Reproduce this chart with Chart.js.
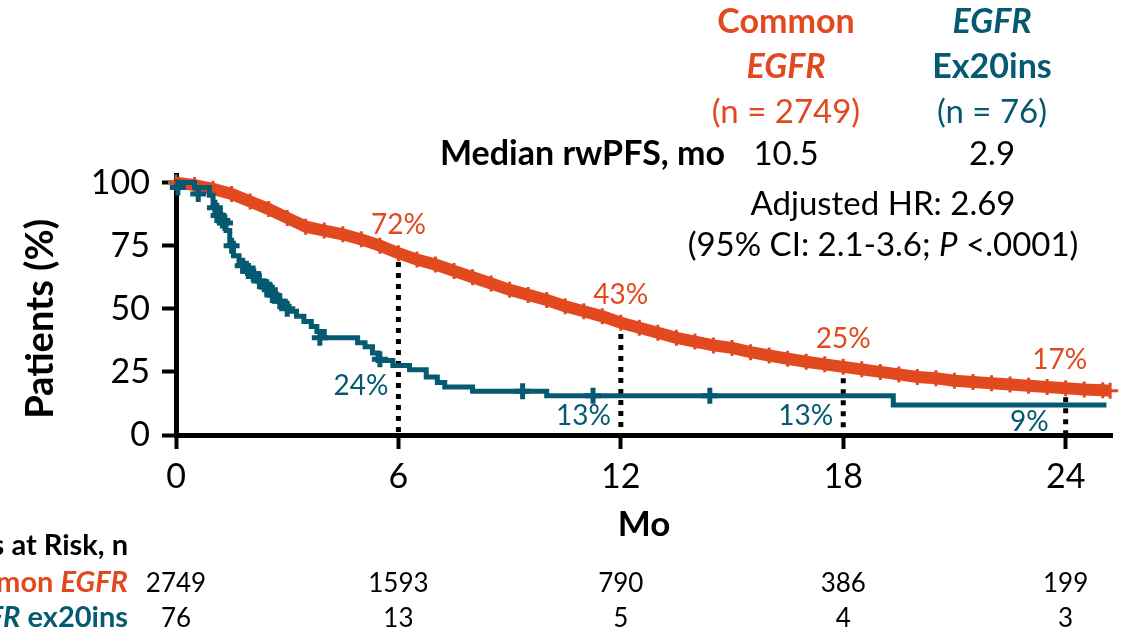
<!DOCTYPE html>
<html><head><meta charset="utf-8">
<script src="https://cdn.jsdelivr.net/npm/chart.js@4.4.1/dist/chart.umd.min.js"></script>
<style>html,body{margin:0;padding:0;background:#fff;overflow:hidden}#wrap{width:1127px;height:636px;position:relative}</style>
</head><body><div id="wrap"><canvas id="c" width="1127" height="636"></canvas></div>
<script>
// ---- data ----
const orangeT = [0,0.5,1,1.5,2,2.5,3,3.5,4,4.5,5,5.5,6,6.5,7,7.5,8,8.5,9,9.5,10,10.5,11,11.5,12,12.5,13,13.5,14,14.5,15,15.5,16,16.5,17,17.5,18,18.5,19,19.5,20,20.5,21,21.5,22,22.5,23,23.5,24,24.5,25,25.2];
const orangeS = [100,99,97.5,95.5,92.5,89.5,86,82.5,81,79.5,77.5,75,72,69.5,67.5,65,62.5,60,57.5,55.5,53.5,51,49,47,44.5,42.5,40.5,38.5,37,35.5,34.5,32.8,31.5,30.2,29,28,27,26,25,24,23,22.5,21.5,21,20.5,20,19.5,19,18.5,18,17.7,17.5];
const tealT = [0,0.5,0.9,1,1.1,1.2,1.35,1.45,1.55,1.7,1.9,2.05,2.2,2.35,2.55,2.7,2.9,3.05,3.25,3.45,3.65,3.8,4,4.9,5.1,5.3,5.45,5.85,6.3,6.75,7.05,7.25,8,10,19.35,25.1];
const tealS = [100,98,95,91,88,85,81,76,71,68,65,63,61,59,56,53,51,49,47,45,43,41,38.5,36.5,35,32.5,29.5,27.5,25.8,23,20.8,19,17.3,15.5,11.9,11.9];
const tealCensorT = [0.05,0.6,1.05,1.15,1.25,1.32,1.5,1.8,1.95,2.08,2.25,2.45,2.53,2.6,2.8,3.0,3.88,5.5,9.35,11.25,14.4];
const tealCensorS = [98,95.5,90,87,85,84,75,67,65,64,61,58.5,57.5,55.5,53,50,38.5,30,17.3,15.5,15.5];
const landmarks = [6,12,18,24];
const landmarkTop = [68.5,40,22.5,15];
const commonPct = ['72%','43%','25%','17%'];
const ex20Pct = ['24%','13%','13%','9%'];
const xTicks = [0,6,12,18,24];
const yTicks = [0,25,50,75,100];
const riskTimes = [0,6,12,18,24];
const riskCommon = [2749,1593,790,386,199];
const riskEx20 = [76,13,5,4,3];
const groupN = [2749,76];
const medians = ['10.5','2.9'];

const ORANGE = '#E2491F';
const TEAL = '#055A72';
const FF = 'Lato, "Open Sans", sans-serif';
const fnt = (s, w='normal', st='normal') => `${st} ${w} ${s}px ${FF}`;

const pts = (xs, ys) => xs.map((x,i)=>({x, y: ys[i]}));
const datasets = [];
landmarks.forEach((t,i)=>datasets.push({label:'landmark '+t, data:[{x:t,y:landmarkTop[i]},{x:t,y:0}],
  borderColor:'#000', borderWidth:5, borderDash:[5,6], borderCapStyle:'butt', pointRadius:0, order:10}));
datasets.push({label:'Common EGFR', data:pts(orangeT,orangeS), borderColor:ORANGE, borderWidth:12, tension:0,
  pointStyle:'cross', pointRadius:8, pointBorderWidth:3, pointBorderColor:ORANGE, pointBackgroundColor:ORANGE, order:3, clip:12});
datasets.push({label:'EGFR ex20ins', data:pts(tealT,tealS), stepped:'before', borderColor:TEAL, borderWidth:5,
  pointRadius:0, order:2, clip:12});
datasets.push({label:'EGFR ex20ins censored', data:pts(tealCensorT,tealCensorS), showLine:false, pointStyle:'cross',
  pointRadius:8, pointBorderWidth:5, pointBorderColor:TEAL, pointBackgroundColor:TEAL, order:1, clip:12});

function runsWidth(ctx, runs){ let w=0; runs.forEach(r=>{ctx.font=r.font; w+=ctx.measureText(r.text).width;}); return w; }
function drawRuns(ctx, runs, x, y, align){
  const w = runsWidth(ctx, runs);
  let cx = align==='center' ? x - w/2 : align==='right' ? x - w : x;
  ctx.textAlign='left'; ctx.textBaseline='alphabetic';
  runs.forEach(r=>{ ctx.font=r.font; ctx.fillStyle=r.color; ctx.fillText(r.text, cx, y); cx += ctx.measureText(r.text).width; });
}
function valAt(ts, ss, t){ let v=ss[0]; for(let i=0;i<ts.length;i++){ if(ts[i]<=t+1e-9) v=ss[i]; } return v; }

const annot = {
  id:'annot',
  afterDraw(chart){
    const ctx = chart.ctx, xs = chart.scales.x, ys = chart.scales.y;
    ctx.save();
    // header block
    const L = 33, LB = 34, cO = 786, cT = 992;
    drawRuns(ctx,[{text:'Common',font:fnt(LB,'bold'),color:ORANGE}],cO,33,'center');
    drawRuns(ctx,[{text:'EGFR',font:fnt(LB,'bold','italic'),color:ORANGE}],cO,78,'center');
    drawRuns(ctx,[{text:'(n = '+groupN[0]+')',font:fnt(L),color:ORANGE}],cO,123,'center');
    drawRuns(ctx,[{text:'EGFR',font:fnt(LB,'bold','italic'),color:TEAL}],cT,33,'center');
    drawRuns(ctx,[{text:'Ex20ins',font:fnt(LB,'bold'),color:TEAL}],cT,78,'center');
    drawRuns(ctx,[{text:'(n = '+groupN[1]+')',font:fnt(L),color:TEAL}],cT,123,'center');
    drawRuns(ctx,[{text:'Median rwPFS, mo',font:fnt(LB,'bold'),color:'#000'}],725,165,'right');
    drawRuns(ctx,[{text:medians[0],font:fnt(L),color:'#000'}],cO,165,'center');
    drawRuns(ctx,[{text:medians[1],font:fnt(L),color:'#000'}],cT,165,'center');
    drawRuns(ctx,[{text:'Adjusted HR: 2.69',font:fnt(L),color:'#000'}],883,215,'center');
    drawRuns(ctx,[{text:'(95% CI: 2.1-3.6; ',font:fnt(L),color:'#000'},{text:'P',font:fnt(L,'normal','italic'),color:'#000'},{text:' <.0001)',font:fnt(L),color:'#000'}],883,256,'center');
    // landmark percentages
    ctx.font = fnt(28); ctx.textBaseline='middle';
    landmarks.forEach((t,i)=>{
      const px = xs.getPixelForValue(t);
      ctx.fillStyle=ORANGE; ctx.textAlign='center';
      ctx.fillText(commonPct[i], px - (i===3?6:0), ys.getPixelForValue(valAt(orangeT,orangeS,t)) - 28);
      ctx.fillStyle=TEAL; ctx.textAlign='right';
      ctx.fillText(ex20Pct[i], px - (i===3?17:10), ys.getPixelForValue(valAt(tealT,tealS,t)) + (i===3?17:20));
    });
    // at-risk table
    const R = 26, RB = 29, lx = 128;
    drawRuns(ctx,[{text:'Patients at Risk, n',font:fnt(RB,'bold'),color:'#000'}],lx,555,'right');
    drawRuns(ctx,[{text:'Common ',font:fnt(RB,'bold'),color:ORANGE},{text:'EGFR',font:fnt(RB,'bold','italic'),color:ORANGE}],lx,592,'right');
    drawRuns(ctx,[{text:'EGFR',font:fnt(RB,'bold','italic'),color:TEAL},{text:' ex20ins',font:fnt(RB,'bold'),color:TEAL}],lx,627,'right');
    ctx.font = fnt(R); ctx.fillStyle='#000'; ctx.textAlign='center'; ctx.textBaseline='alphabetic';
    riskTimes.forEach((t,i)=>{
      const px = xs.getPixelForValue(t);
      ctx.fillText(String(riskCommon[i]), px, 592);
      ctx.fillText(String(riskEx20[i]), px, 627);
    });
    ctx.restore();
  }
};

new Chart(document.getElementById('c'), {
  type:'line',
  data:{datasets},
  plugins:[annot],
  options:{
    responsive:false, animation:false, devicePixelRatio:1,
    layout:{padding:{left:0,right:15,top:175,bottom:0}},
    plugins:{legend:{display:false}, tooltip:{enabled:false}},
    scales:{
      x:{type:'linear', min:0, max:25.25,
        afterBuildTicks:s=>{ s.ticks = xTicks.map(v=>({value:v})); },
        afterFit:s=>{ s.height = 201; },
        grid:{drawOnChartArea:false, drawTicks:true, tickLength:14, tickWidth:4, tickColor:'#000', color:'#000'},
        border:{display:true, color:'#000', width:5},
        ticks:{font:{family:FF,size:34}, color:'#000', padding:8, maxRotation:0, autoSkip:false},
        title:{display:true, text:'Mo', color:'#000', font:{family:FF,size:35,weight:'bold'}, padding:{top:0,bottom:90}}
      },
      y:{type:'linear', min:0, max:103,
        afterBuildTicks:s=>{ s.ticks = yTicks.map(v=>({value:v})); },
        afterFit:s=>{ s.width = 176; },
        grid:{drawOnChartArea:false, drawTicks:true, tickLength:14, tickWidth:4, tickColor:'#000', color:'#000'},
        border:{display:true, color:'#000', width:5},
        ticks:{font:{family:FF,size:34}, color:'#000', padding:12, autoSkip:false},
        title:{display:true, text:'Patients (%)\u00A0\u00A0\u00A0', color:'#000', font:{family:FF,size:38,weight:'bold'}, padding:{top:18,bottom:0}}
      }
    }
  }
});
</script></body></html>
